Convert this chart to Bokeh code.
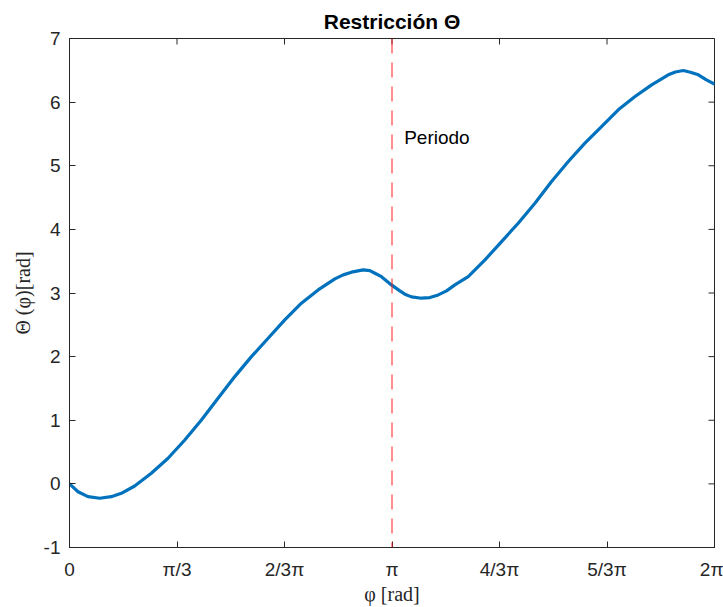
import math
from bokeh.plotting import figure
from bokeh.models import FixedTicker, Span, Label
from bokeh.embed import file_html
from bokeh.resources import INLINE

# ---- data ----
phi = [0.000, 0.083, 0.180, 0.294, 0.407, 0.505, 0.635, 0.797, 0.960, 1.123,
       1.285, 1.447, 1.610, 1.772, 1.935, 2.097, 2.259, 2.422, 2.585, 2.666,
       2.747, 2.861, 2.926, 2.975, 3.039, 3.136, 3.218, 3.267, 3.331, 3.429,
       3.511, 3.592, 3.673, 3.754, 3.884, 4.047, 4.209, 4.371, 4.534, 4.696,
       4.859, 5.021, 5.183, 5.346, 5.509, 5.671, 5.833, 5.902, 5.980, 6.048,
       6.126, 6.204, 6.283]
theta = [0.000, -0.123, -0.201, -0.226, -0.201, -0.148, -0.033, 0.167, 0.403, 0.690,
         1.005, 1.346, 1.686, 2.000, 2.289, 2.577, 2.840, 3.049, 3.222, 3.285,
         3.327, 3.363, 3.352, 3.311, 3.257, 3.127, 3.033, 2.981, 2.939, 2.918,
         2.928, 2.970, 3.033, 3.127, 3.258, 3.520, 3.808, 4.097, 4.412, 4.752,
         5.066, 5.355, 5.616, 5.879, 6.088, 6.272, 6.429, 6.474, 6.497, 6.469,
         6.429, 6.351, 6.283]

x_ticks = [0, math.pi / 3, 2 * math.pi / 3, math.pi, 4 * math.pi / 3, 5 * math.pi / 3, 2 * math.pi]
x_tick_labels = ["0", "π/3", "2/3π", "π", "4/3π", "5/3π", "2π"]
y_ticks = [-1, 0, 1, 2, 3, 4, 5, 6, 7]
y_tick_labels = ["-1", "0", "1", "2", "3", "4", "5", "6", "7"]
x_lim = (0, 2 * math.pi)
y_lim = (-1, 7)

period_x = math.pi
period_label = "Periodo"
period_label_pos = (3.26, 5.45)

title_text = "Restricción Θ"
x_label = "φ [rad]"
y_label = "Θ (φ)[rad]"

AX = "#262626"
FONT = "Liberation Sans"
SERIF = "Liberation Serif"

p = figure(width=723, height=607, output_backend="svg", toolbar_location=None,
           x_range=x_lim, y_range=y_lim,
           min_border_left=69, min_border_right=9, min_border_top=38, min_border_bottom=59,
           title=title_text)
p.background_fill_color = "white"
p.border_fill_color = "white"
p.outline_line_color = AX
p.outline_line_width = 1
p.xgrid.visible = False
p.ygrid.visible = False

p.title.text_font = FONT
p.title.text_font_size = "21px"
p.title.text_font_style = "bold"
p.title.text_color = "black"
p.title.align = "center"
p.title.standoff = 12

xo = {t: l for t, l in zip(x_ticks, x_tick_labels)}
yo = {t: l for t, l in zip(y_ticks, y_tick_labels)}

def style(ax, ticks, overrides):
    ax.ticker = FixedTicker(ticks=ticks)
    ax.axis_line_color = AX
    ax.axis_line_width = 1
    ax.major_tick_line_color = AX
    ax.major_tick_line_width = 1
    ax.major_tick_in = 6
    ax.major_tick_out = 0
    ax.minor_tick_line_color = None
    ax.major_label_overrides = overrides
    ax.major_label_text_font = FONT
    ax.major_label_text_font_size = "19px"
    ax.major_label_text_color = AX

xa = p.xaxis[0]
style(xa, x_ticks, xo)
xa.major_label_standoff = 11
xa.axis_label = x_label
xa.axis_label_text_font = SERIF
xa.axis_label_text_font_size = "20px"
xa.axis_label_text_font_style = "normal"
xa.axis_label_text_color = AX
xa.axis_label_standoff = 0

ya = p.yaxis[0]
style(ya, y_ticks, yo)
ya.major_label_standoff = 9
ya.axis_label = y_label
ya.axis_label_text_font = SERIF
ya.axis_label_text_font_size = "20px"
ya.axis_label_text_font_style = "normal"
ya.axis_label_text_color = AX
ya.axis_label_standoff = 7

# inward ticks on the top and right edges of the box
p.ray(x=x_ticks, y=[y_lim[1]] * len(x_ticks), length=6, length_units="screen",
      angle=-math.pi / 2, line_color=AX, line_width=1)
p.ray(x=[x_lim[1]] * len(y_ticks), y=y_ticks, length=6, length_units="screen",
      angle=math.pi, line_color=AX, line_width=1)

p.add_layout(Span(location=period_x, dimension="height", line_color="#ff2020",
                  line_width=1, line_dash="15 9"))

p.line(phi, theta, line_color="#0072BD", line_width=3.2, line_join="round", line_cap="round")

p.add_layout(Label(x=period_label_pos[0], y=period_label_pos[1], text=period_label,
                   text_font=FONT, text_font_size="19px", text_color="black",
                   text_baseline="middle", text_align="left"))

open("out.html", "w").write(file_html(p, INLINE))
